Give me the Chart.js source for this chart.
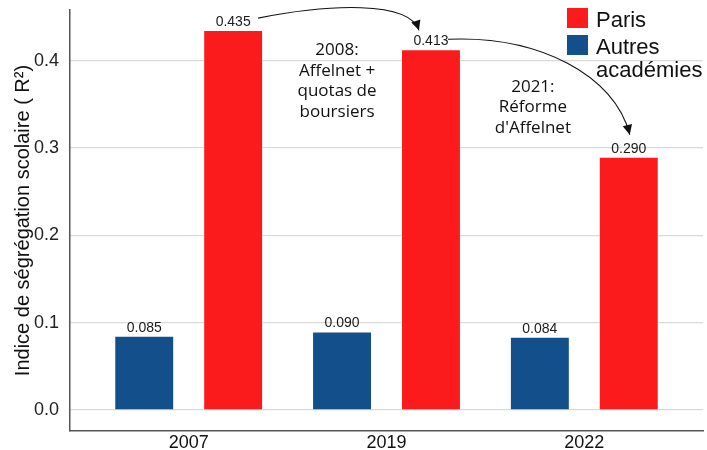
<!DOCTYPE html>
<html>
<head>
<meta charset="utf-8">
<script src="https://cdn.jsdelivr.net/npm/chart.js@4"></script>
<style>
  html, body { margin: 0; padding: 0; background: #fff; }
  #wrap { width: 707px; height: 450px; }
</style>
</head>
<body>
<div id="wrap"><canvas id="myChart" width="707" height="450"></canvas></div>
<script>
var years = ['2007', '2019', '2022'];
var paris = [0.435, 0.413, 0.290];
var autres = [0.085, 0.090, 0.084];
var yTicks = [0.0, 0.1, 0.2, 0.3, 0.4];
var notes = [
  ['2008:', 'Affelnet +', 'quotas de', 'boursiers'],
  ['2021:', 'Réforme', "d'Affelnet"]
];
var legendLabels = [['Paris'], ['Autres', 'académies']];

var RED = '#FC1B1C';
var BLUE = '#134F8A';

function toPoints(arr) {
  return arr.map(function (v, i) { return { x: i, y: v }; });
}

// value labels, notes, curved arrows, legend
var extras = {
  id: 'extras',
  afterDatasetsDraw: function (chart) {
    var ctx = chart.ctx;
    var xs = chart.scales.x, ys = chart.scales.y;
    var metaA = chart.getDatasetMeta(0), metaP = chart.getDatasetMeta(1);

    ctx.save();
    ctx.fillStyle = '#1a1a1a';
    ctx.font = '14px "Liberation Sans", Arial, sans-serif';
    ctx.textAlign = 'center';
    ctx.textBaseline = 'alphabetic';
    [metaA, metaP].forEach(function (meta, d) {
      var vals = d === 0 ? autres : paris;
      meta.data.forEach(function (bar, i) {
        ctx.fillText(vals[i].toFixed(3), bar.x, bar.y - 4);
      });
    });

    // notes between bars
    ctx.font = '17px "Open Sans", "Noto Sans", sans-serif';
    ctx.fillStyle = '#111';
    ctx.textBaseline = 'middle';
    var anchors = [[0.75, 0.412], [1.74, 0.370]];
    notes.forEach(function (lines, n) {
      var cx = xs.getPixelForValue(anchors[n][0]);
      var cy = ys.getPixelForValue(anchors[n][1]);
      lines.forEach(function (t, k) { ctx.fillText(t, cx, cy + k * 20.5); });
    });

    // curved arrows from one Paris label to the next bar
    ctx.strokeStyle = '#111';
    ctx.fillStyle = '#111';
    ctx.lineWidth = 1.1;
    function arrow(p0, c1, c2, p1) {
      ctx.beginPath();
      ctx.moveTo(p0[0], p0[1]);
      ctx.bezierCurveTo(c1[0], c1[1], c2[0], c2[1], p1[0], p1[1]);
      ctx.stroke();
      var ang = Math.atan2(p1[1] - c2[1], p1[0] - c2[0]);
      var L = 11, W = 0.45;
      ctx.beginPath();
      ctx.moveTo(p1[0], p1[1]);
      ctx.lineTo(p1[0] - L * Math.cos(ang - W), p1[1] - L * Math.sin(ang - W));
      ctx.lineTo(p1[0] - L * Math.cos(ang + W), p1[1] - L * Math.sin(ang + W));
      ctx.closePath();
      ctx.fill();
    }
    var b0 = metaP.data[0], b1 = metaP.data[1], b2 = metaP.data[2];
    var s0 = [b0.x + 25, b0.y - 12];
    var e0 = [b1.x - 12, b1.y - 19];
    arrow(s0, [s0[0] + 70, s0[1] - 14], [e0[0] - 10, e0[1] - 30], e0);
    var s1 = [b1.x + 17, b1.y - 10];
    var e1 = [b2.x + 1, b2.y - 22];
    arrow(s1, [s1[0] + 90, s1[1] - 4], [e1[0] - 15, e1[1] - 60], e1);

    // legend (top right, inside the plot)
    ctx.font = '22px "Liberation Sans", Arial, sans-serif';
    ctx.textAlign = 'left';
    ctx.textBaseline = 'alphabetic';
    var colors = [RED, BLUE];
    var lx = 567, ly = [8, 35];
    legendLabels.forEach(function (lines, k) {
      ctx.fillStyle = colors[k];
      ctx.fillRect(lx, ly[k], 21, 20);
      ctx.fillStyle = '#111';
      lines.forEach(function (t, j) { ctx.fillText(t, lx + 29, ly[k] + 19 + j * 23); });
    });
    ctx.restore();
  }
};

var ctx = document.getElementById('myChart').getContext('2d');
var myChart = new Chart(ctx, {
  type: 'bar',
  data: {
    datasets: [{
      label: 'Autres académies',
      data: toPoints(autres),
      backgroundColor: BLUE,
      borderColor: 'rgba(255,255,255,0.5)',
      borderWidth: 1,
      categoryPercentage: 0.899,
      barPercentage: 0.674
    }, {
      label: 'Paris',
      data: toPoints(paris),
      backgroundColor: RED,
      borderColor: 'rgba(255,255,255,0.5)',
      borderWidth: 1,
      categoryPercentage: 0.899,
      barPercentage: 0.674
    }]
  },
  options: {
    responsive: false,
    animation: false,
    layout: { padding: { top: 10, right: 4, left: 0, bottom: 0 } },
    plugins: {
      legend: { display: false },
      tooltip: { enabled: false }
    },
    scales: {
      x: {
        type: 'linear',
        min: -0.6,
        max: 2.6,
        offset: false,
        afterBuildTicks: function (scale) {
          scale.ticks = years.map(function (y, i) { return { value: i }; });
        },
        afterFit: function (scale) {
          scale.height = 19;
          scale.paddingLeft = 0;
          scale.paddingRight = 0;
        },
        ticks: {
          callback: function (v) { return years[v]; },
          color: '#111',
          font: { family: '"Liberation Sans", Arial, sans-serif', size: 18 },
          padding: 1,
          maxRotation: 0
        },
        grid: { display: false, drawTicks: false },
        border: { display: true, color: '#555', width: 1.5 }
      },
      y: {
        min: -0.024,
        max: 0.458,
        afterBuildTicks: function (scale) {
          scale.ticks = yTicks.map(function (v) { return { value: v }; });
        },
        afterFit: function (scale) {
          scale.width = 70;
          scale.paddingTop = 0;
          scale.paddingBottom = 0;
        },
        ticks: {
          callback: function (v) { return v.toFixed(1); },
          color: '#222',
          font: { family: '"Liberation Sans", Arial, sans-serif', size: 18 },
          padding: 11
        },
        grid: { color: '#d9d9d9', lineWidth: 1.2, drawTicks: false },
        border: { display: true, color: '#555', width: 1.5 },
        title: {
          display: true,
          text: 'Indice de ségrégation scolaire ( R²)',
          color: '#111',
          font: { family: '"Liberation Sans", Arial, sans-serif', size: 20 },
          padding: { top: 11, bottom: 0 }
        }
      }
    }
  },
  plugins: [extras]
});
</script>
</body>
</html>
